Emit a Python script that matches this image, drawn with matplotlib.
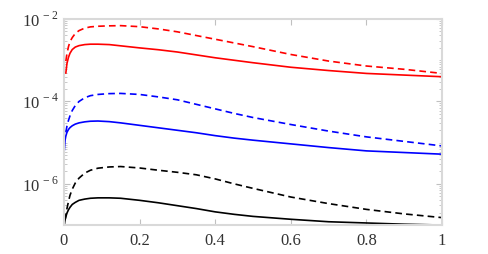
import numpy as np
import matplotlib
matplotlib.use('Agg')
import matplotlib.pyplot as plt
from matplotlib.ticker import FixedLocator, FixedFormatter, LogLocator, NullFormatter

plt.rcParams['font.family'] = 'Liberation Serif'
plt.rcParams['mathtext.fontset'] = 'custom'
plt.rcParams['mathtext.rm'] = 'Liberation Serif'

# x samples and log10 values
x = [0.001, 0.003, 0.005, 0.008, 0.012, 0.016, 0.022, 0.03, 0.04, 0.055, 0.07, 0.09, 0.12,
     0.15, 0.2, 0.25, 0.3, 0.35, 0.4, 0.45, 0.5, 0.6, 0.7, 0.8, 0.9, 1.0]
# red curves start at x[2]
red_dash = [-3.02, -2.84, -2.67, -2.55, -2.45, -2.35, -2.28, -2.22, -2.19, -2.175, -2.165, -2.16,
            -2.185, -2.24, -2.31, -2.40, -2.49, -2.58, -2.67, -2.86, -3.02, -3.14, -3.22, -3.32]
red_solid = [-3.31, -3.08, -2.93, -2.83, -2.74, -2.68, -2.645, -2.62, -2.61, -2.61, -2.62, -2.65,
             -2.70, -2.745, -2.80, -2.87, -2.94, -3.00, -3.06, -3.17, -3.25, -3.32, -3.36, -3.40]
# blue dashed starts at x[2]
blue_dash = [-4.75, -4.60, -4.46, -4.35, -4.22, -4.10, -4.00, -3.91, -3.86, -3.83, -3.81, -3.805,
             -3.83, -3.89, -3.96, -4.07, -4.18, -4.29, -4.39, -4.56, -4.72, -4.86, -4.97, -5.08]
blue_solid = [-5.18, -4.94, -4.84, -4.75, -4.68, -4.635, -4.59, -4.55, -4.52, -4.495, -4.48, -4.475, -4.49,
              -4.52, -4.58, -4.64, -4.70, -4.76, -4.83, -4.89, -4.94, -5.03, -5.12, -5.20, -5.24, -5.28]
# black dashed starts at x[1]
black_dash = [-6.88, -6.76, -6.60, -6.43, -6.28, -6.13, -5.98, -5.86, -5.74, -5.67, -5.62, -5.59,
              -5.58, -5.615, -5.67, -5.72, -5.78, -5.88, -6.00, -6.11, -6.32, -6.48, -6.62, -6.73, -6.82]
black_solid = [-7.0, -6.87, -6.80, -6.71, -6.63, -6.57, -6.50, -6.45, -6.40, -6.37, -6.35, -6.34, -6.34,
               -6.35, -6.40, -6.46, -6.53, -6.60, -6.68, -6.74, -6.79, -6.86, -6.92, -6.95, -6.98, -7.0]

xticks = [0, 0.2, 0.4, 0.6, 0.8, 1]
xlabels = ['0', '0.2', '0.4', '0.6', '0.8', '1']
yticks = [1e-6, 1e-4, 1e-2]
ylabels = [r'$10^{\,-6}$', r'$10^{\,-4}$', r'$10^{\,-2}$']

fig = plt.figure(figsize=(4.88, 2.54), dpi=100)
ax = fig.add_axes([0.131, 0.114, 0.775, 0.811])

dash = (0, (4, 2.5))
ax.plot(x[2:], 10 ** np.array(red_dash), color='#ff0000', lw=1.2, ls=dash)
ax.plot(x[2:], 10 ** np.array(red_solid), color='#ff0000', lw=1.2)
ax.plot(x[2:], 10 ** np.array(blue_dash), color='#0000ff', lw=1.2, ls=dash)
ax.plot(x, 10 ** np.array(blue_solid), color='#0000ff', lw=1.2)
ax.plot(x[1:], 10 ** np.array(black_dash), color='black', lw=1.2, ls=dash)
ax.plot(x, 10 ** np.array(black_solid), color='black', lw=1.2)

ax.set_yscale('log')
ax.set_xlim(0, 1)
ax.set_ylim(1e-7, 1e-2)

ax.yaxis.set_major_locator(FixedLocator(yticks))
ax.yaxis.set_major_formatter(FixedFormatter(ylabels))
ax.yaxis.set_minor_locator(LogLocator(base=10, subs=np.arange(1, 10) * 1.0, numticks=20))
ax.yaxis.set_minor_formatter(NullFormatter())
ax.set_xticks(xticks)
ax.set_xticklabels(xlabels)

for s in ax.spines.values():
    s.set_color('#d9d9d9')
    s.set_linewidth(1.5)
ax.tick_params(which='both', direction='in', color='#c0c0c0', top=True, right=True,
               labelsize=12, labelcolor='#333333')
ax.tick_params(which='major', length=4)
ax.tick_params(which='minor', length=2.5)
ax.tick_params(axis='x', pad=6)

fig.savefig('out.png', dpi=100)
